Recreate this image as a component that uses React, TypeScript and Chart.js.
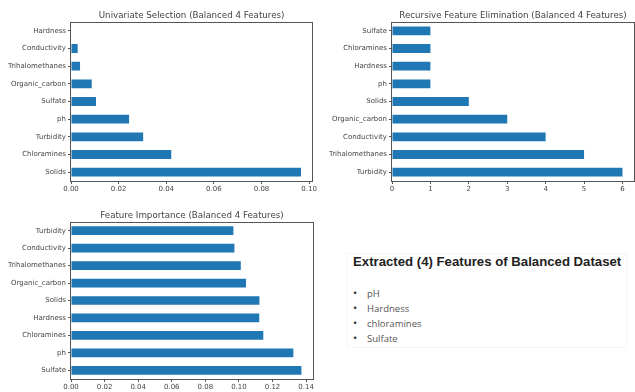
import React, { useEffect, useRef } from "react";
import { Chart, registerables } from "chart.js";

Chart.register(...registerables);

// Univariate selection
const uniLabels = ["Hardness", "Conductivity", "Trihalomethanes", "Organic_carbon", "Sulfate", "ph", "Turbidity", "Chloramines", "Solids"];
const uniValues = [0.0, 0.0028, 0.0038, 0.0087, 0.0105, 0.0244, 0.0303, 0.0421, 0.0966];
const uniTicks = [0, 0.02, 0.04, 0.06, 0.08, 0.1];

// Recursive feature elimination
const rfeLabels = ["Sulfate", "Chloramines", "Hardness", "ph", "Solids", "Organic_carbon", "Conductivity", "Trihalomethanes", "Turbidity"];
const rfeValues = [1, 1, 1, 1, 2, 3, 4, 5, 6];
const rfeTicks = [0, 1, 2, 3, 4, 5, 6];

// Feature importance
const fiLabels = ["Turbidity", "Conductivity", "Trihalomethanes", "Organic_carbon", "Solids", "Hardness", "Chloramines", "ph", "Sulfate"];
const fiValues = [0.0967, 0.0973, 0.1011, 0.1042, 0.1122, 0.1121, 0.1145, 0.1324, 0.1372];
const fiTicks = [0, 0.02, 0.04, 0.06, 0.08, 0.1, 0.12, 0.14];

const extractedTitle = "Extracted (4) Features of Balanced Dataset";
const extractedItems = ["pH", "Hardness", "chloramines", "Sulfate"];

const FONT = "'DejaVu Sans', sans-serif";

type PanelProps = {
  left: number; top: number; width: number; height: number;
  area: { l: number; t: number; r: number; b: number };
  title: string; titleY: number;
  labels: string[]; values: number[]; ticks: number[]; xmax: number; decimals: number;
};

function BarPanel(p: PanelProps) {
  const ref = useRef<HTMLCanvasElement>(null);
  useEffect(() => {
    if (!ref.current) return;
    const framePlugin = {
      id: "frame",
      afterDatasetsDraw(chart: any) {
        const { ctx, chartArea: a } = chart;
        ctx.save();
        ctx.strokeStyle = "#555";
        ctx.lineWidth = 1;
        ctx.strokeRect(Math.round(a.left) - 0.5, Math.round(a.top) + 0.5, Math.round(a.right - a.left) + 1, Math.round(a.bottom - a.top));
        ctx.fillStyle = "#444";
        ctx.font = `8.7px ${FONT}`;
        ctx.textAlign = "center";
        ctx.textBaseline = "middle";
        ctx.fillText(p.title, (a.left + a.right) / 2, p.titleY);
        ctx.restore();
      },
    };
    const chart = new Chart(ref.current, {
      type: "bar",
      data: {
        labels: p.labels,
        datasets: [{ data: p.values, backgroundColor: "#1f77b4", barPercentage: 0.5, categoryPercentage: 1 }],
      },
      options: {
        indexAxis: "y",
        animation: false,
        responsive: false,
        layout: { padding: { left: 0, top: p.area.t, right: p.width - p.area.r, bottom: 0 } },
        plugins: { legend: { display: false }, title: { display: false }, tooltip: { enabled: false } },
        scales: {
          x: {
            min: 0,
            max: p.xmax,
            afterBuildTicks: (s: any) => { s.ticks = p.ticks.map((v) => ({ value: v })); },
            afterFit: (s: any) => { s.height = p.height - p.area.b; },
            border: { display: false },
            grid: { display: true, drawOnChartArea: false, drawTicks: true, tickLength: 3, color: "#555" },
            ticks: {
              color: "#444", font: { family: FONT, size: 7 }, padding: 1, maxRotation: 0, autoSkip: false,
              callback: (v: any) => Number(v).toFixed(p.decimals),
            },
          },
          y: {
            afterFit: (s: any) => { s.width = p.area.l; },
            border: { display: false },
            grid: { display: true, offset: false, drawOnChartArea: false, drawTicks: true, tickLength: 3, color: "#555" },
            ticks: { color: "#444", font: { family: FONT, size: 7 }, padding: 2, autoSkip: false },
          },
        },
      },
      plugins: [framePlugin],
    });
    return () => chart.destroy();
  }, []);
  return (
    <canvas
      ref={ref}
      width={p.width}
      height={p.height}
      style={{ position: "absolute", left: p.left, top: p.top, width: p.width, height: p.height, display: "block" }}
    />
  );
}

export default function App() {
  return (
    <div style={{ position: "fixed", left: 0, top: 0, width: 635, height: 392, background: "#fff", overflow: "hidden" }}>
      <BarPanel left={0} top={0} width={318} height={195} area={{ l: 71, t: 22, r: 313, b: 181 }}
        title="Univariate Selection (Balanced 4 Features)" titleY={16}
        labels={uniLabels} values={uniValues} ticks={uniTicks} xmax={0.1013} decimals={2} />
      <BarPanel left={318} top={0} width={317} height={195} area={{ l: 74, t: 22, r: 316, b: 181 }}
        title="Recursive Feature Elimination (Balanced 4 Features)" titleY={16}
        labels={rfeLabels} values={rfeValues} ticks={rfeTicks} xmax={6.3} decimals={0} />
      <BarPanel left={0} top={200} width={318} height={192} area={{ l: 71, t: 22, r: 313, b: 179 }}
        title="Feature Importance (Balanced 4 Features)" titleY={16}
        labels={fiLabels} values={fiValues} ticks={fiTicks} xmax={0.1441} decimals={2} />
      <div style={{ position: "absolute", left: 347, top: 253, width: 280, height: 95, border: "1px solid #f6f6f6", boxSizing: "border-box" }} />
      <div style={{ position: "absolute", left: 353, top: 253, fontFamily: "'Liberation Sans', Arial, sans-serif", fontWeight: "bold", fontSize: 13.2, color: "#222", whiteSpace: "nowrap", lineHeight: "17px" }}>
        {extractedTitle}
      </div>
      {extractedItems.map((t, i) => (
        <div key={t} style={{ position: "absolute", left: 353, top: 286 + i * 15, fontFamily: "'Open Sans', 'Liberation Sans', sans-serif", fontSize: 9.5, color: "#555", whiteSpace: "nowrap", lineHeight: "14px" }}>
          <span style={{ display: "inline-block", width: 14, fontSize: 11, color: "#333" }}>•</span>{t}
        </div>
      ))}
    </div>
  );
}
